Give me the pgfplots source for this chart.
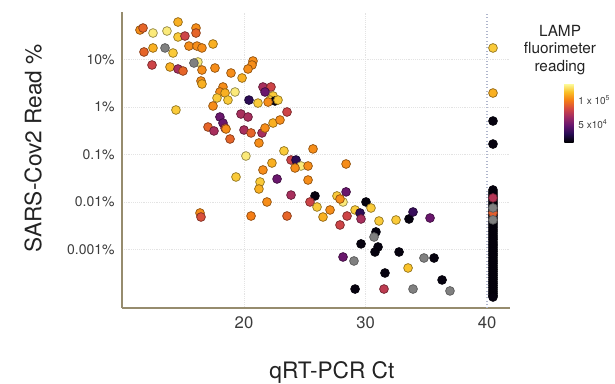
\documentclass[border=0pt]{standalone}
\usepackage{fontspec}
\setmainfont{TeX Gyre Heros}
\usepackage{pgfplots}
\usepackage{pgfplotstable}
\pgfplotsset{compat=1.18}
\definecolor{spine}{RGB}{150,140,110}
\definecolor{ticktxt}{RGB}{60,60,60}
\definecolor{labtxt}{RGB}{35,35,35}
\definecolor{naGray}{RGB}{128,128,128}
\definecolor{vline}{RGB}{175,182,205}

\pgfplotstableread{
x y m
40.49 0.0179 15000
40.49 0.0162 15000
40.49 0.01475 15000
40.49 0.0134 15000
40.49 0.01215 15000
40.49 0.011 15000
40.49 0.0100 15000
40.49 0.0091 15000
40.49 0.00825 15000
40.49 0.0075 15000
40.49 0.0068 15000
40.49 0.0062 15000
40.49 0.0056 15000
40.49 0.0051 15000
40.49 0.00461 15000
40.49 0.0042 15000
40.49 0.0038 15000
40.49 0.00345 15000
40.49 0.00313 15000
40.49 0.00285 15000
40.49 0.00258 15000
40.49 0.00235 15000
40.49 0.00213 15000
40.49 0.00193 15000
40.49 0.00175 15000
40.49 0.0016 15000
40.49 0.00144 15000
40.49 0.0013 15000
40.49 0.00119 15000
40.49 0.00108 15000
40.49 0.00098 15000
40.49 0.0009 15000
40.49 0.00081 15000
40.49 0.00074 15000
40.49 0.000666 15000
40.49 0.0006 15000
40.49 0.000549 15000
40.49 0.0005 15000
40.49 0.000452 15000
40.49 0.00041 15000
40.49 0.000373 15000
40.49 0.00034 15000
40.49 0.000307 15000
40.49 0.00028 15000
40.49 0.000253 15000
40.49 0.00023 15000
40.49 0.000208 15000
40.49 0.00019 15000
40.49 0.000172 15000
40.49 0.000156 15000
40.49 0.000141 15000
40.49 0.000128 15000
40.49 0.000117 15000
40.49 0.000107 15000
40.49 0.0001 15000
40.49 17.5 120000
40.49 1.97 113000
40.49 0.507 15000
40.49 0.166 15000
40.49 0.0122 72000
40.49 0.0059 90000
11.44 41.8 104000
11.69 46 92000
12.51 36.1 129000
13.66 39.8 129000
14.57 61.5 113000
14.57 29.8 120000
15.14 31.2 80000
16.05 46 104000
16.05 36.1 92000
11.77 14.4 92000
12.51 17.5 113000
14.16 13.7 120000
15.47 19.2 104000
16.13 19.2 104000
16.54 17.5 104000
17.45 21.2 113000
12.43 7.66 80000
13.91 6.95 113000
14.57 6.31 68000
14.98 5.73 92000
16.21 8.86 129000
16.54 6.01 104000
17.61 6.62 104000
16.46 3.53 104000
16.54 3.05 113000
18.93 5.20 104000
20.74 9.3 104000
20.66 7.66 104000
20.33 6.31 104000
19.84 4.08 113000
14.40 0.865 120000
18.27 2.64 104000
18.02 2.07 104000
18.44 1.97 113000
19.26 2.07 129000
17.78 1.55 120000
18.68 1.40 120000
17.45 1.05 104000
21.56 2.64 68000
22.22 2.64 80000
21.73 2.07 49000
22.39 1.71 120000
22.14 1.40 120000
22.55 1.34 15000
22.80 1.40 120000
21.98 1.27 104000
20.41 1.40 31000
21.15 1.21 120000
23.54 0.785 80000
18.02 0.616 49000
18.27 0.460 49000
18.44 0.361 68000
17.04 0.379 92000
17.53 0.313 68000
18.52 0.344 104000
18.85 0.212 92000
19.75 0.712 68000
20.33 0.616 68000
20.00 0.328 68000
20.58 0.284 92000
21.48 0.284 68000
21.73 0.361 104000
22.39 0.460 113000
22.96 0.532 104000
21.23 0.175 104000
20.16 0.0929 129000
23.29 0.119 120000
25.68 0.131 104000
22.30 0.0662 113000
21.56 0.0472 104000
23.87 0.0766 80000
24.28 0.0766 31000
24.69 0.0573 129000
25.27 0.0573 104000
24.20 0.0520 104000
28.40 0.0631 104000
19.34 0.0336 120000
22.72 0.0305 49000
25.27 0.0290 104000
21.32 0.0264 120000
21.23 0.0188 113000
21.89 0.0100 104000
23.87 0.0140 68000
25.84 0.0134 15000
25.43 0.0100 80000
26.01 0.00785 120000
27.08 0.00679 104000
27.65 0.0134 120000
28.40 0.0163 49000
28.15 0.0100 129000
27.90 0.01156 104000
30.04 0.0100 15000
30.45 0.00748 120000
29.14 0.00679 120000
29.55 0.00587 31000
29.63 0.00439 68000
28.48 0.00507 80000
26.50 0.00483 113000
23.54 0.00507 92000
27.90 0.00328 80000
31.11 0.00398 120000
32.51 0.00418 120000
33.58 0.00439 15000
33.91 0.00616 35000
35.31 0.00460 49000
16.38 0.00587 104000
16.46 0.00483 85000
20.58 0.00507 100000
30.86 0.00234 15000
29.63 0.00131 15000
31.03 0.00113 15000
30.78 0.000886 15000
32.76 0.000886 15000
28.15 0.000695 49000
35.64 0.000662 15000
33.50 0.000408 118000
31.60 0.000320 15000
36.30 0.000228 15000
29.14 0.000147 15000
31.52 0.000147 75000
}\lampdata

\pgfplotstableread{
x y
13.50 17.5
15.88 8.44
30.70 0.00183
29.05 0.000573
34.81 0.000662
33.91 0.000147
36.95 0.000134
40.49 0.0075
40.49 0.0042
}\nadata

\begin{document}
\begin{tikzpicture}
\useasboundingbox (-91.5pt,-56.25pt) rectangle (369.75pt,231pt);
\begin{axis}[
  scale only axis, width=291pt, height=222pt,
  at={(0,0)}, anchor=south west,
  xmin=9.96, xmax=41.89,
  ymode=log, ymin=5.86e-5, ymax=100,
  axis x line*=bottom, axis y line*=left,
  axis line style={spine, line width=0.8pt, -},
  xtick={20,30}, xticklabels={20,30},
  extra x ticks={40}, extra x tick labels={40},
  extra x tick style={grid=major, major grid style={vline, dotted, line width=1.1pt}},
  ytick={10,1,0.1,0.01,0.001},
  yticklabels={10\%,1\%,0.1\%,0.01\%,0.001\%},
  grid=major, major grid style={densely dotted, gray!22, line width=0.5pt},
  major tick length=0pt, minor tick length=0pt,
  xticklabel style={font=\fontsize{12.5}{14}\selectfont, color=ticktxt, yshift=-3pt},
  yticklabel style={font=\fontsize{10.5}{12}\selectfont, color=ticktxt, xshift=-2pt},
  xlabel={qRT-PCR Ct},
  ylabel={SARS-Cov2 Read \%},
  xlabel style={font=\fontsize{17}{20}\selectfont, color=labtxt, at={(axis description cs:0.541,-0.218)}, anchor=center},
  ylabel style={font=\fontsize{17}{20}\selectfont, color=labtxt, at={(axis description cs:-0.229,0.54)}, anchor=center},
  colormap={inferno}{rgb255(0cm)=(0,0,4); rgb255(1cm)=(40,11,84); rgb255(2cm)=(101,21,110); rgb255(3cm)=(159,42,99); rgb255(4cm)=(212,72,66); rgb255(5cm)=(245,125,21); rgb255(6cm)=(250,193,39); rgb255(7cm)=(252,255,164)},
  point meta min=12500, point meta max=135000,
  colorbar,
  colorbar style={
    at={(parent axis.south west)}, anchor=south west,
    xshift=323.25pt, yshift=124.5pt,
    width=7pt, height=44pt,
    scaled y ticks=false,
    ytick={50000,100000},
    yticklabels={{5 x10\textsuperscript{4}},{1 x 10\textsuperscript{5}}},
    yticklabel style={font=\fontsize{7.5}{9}\selectfont, color=ticktxt},
    axis line style={draw=none},
    major tick length=0pt,
  },
]
\addplot[scatter, only marks, mark=*, mark size=3.3pt, point meta=explicit,
  mark options={line width=0.55pt},
  scatter/use mapped color={draw=mapped color!60!black, fill=mapped color}]
  table[x=x, y=y, meta=m] {\lampdata};
\addplot[only marks, mark=*, mark size=3.3pt,
  mark options={draw=naGray!70!black, fill=naGray, line width=0.55pt}]
  table[x=x, y=y] {\nadata};
\end{axis}
\node[align=center, font=\fontsize{11.5}{13.2}\selectfont, text=labtxt] at (328.5pt,193.5pt) {LAMP\\fluorimeter\\reading};
\end{tikzpicture}
\end{document}
